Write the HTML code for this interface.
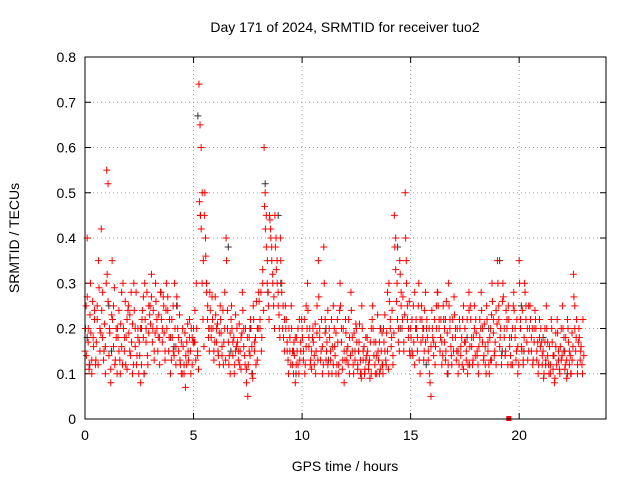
<!DOCTYPE html>
<html><head><meta charset="utf-8"><style>
body{margin:0;background:#fff;}
svg{display:block;font-family:"Liberation Sans",sans-serif;}
</style></head><body>
<svg id="chart" width="640" height="480" xmlns="http://www.w3.org/2000/svg">
<rect width="640" height="480" fill="#fff"/>
<text x="345" y="32" font-size="14" text-anchor="middle">Day 171 of 2024, SRMTID for receiver tuo2</text>
<text x="345" y="471" font-size="14" text-anchor="middle">GPS time / hours</text>
<text x="19" y="238" font-size="14" text-anchor="middle" transform="rotate(-90 19 238)">SRMTID / TECUs</text>
<g id="grid"></g><g id="ticks"></g><g id="marks"></g>
<rect x="85" y="57" width="521" height="362" fill="none" stroke="#000" stroke-width="1"/>
</svg>
<script>
const xTicks=[0,5,10,15,20];
const yTicks=[0,0.1,0.2,0.3,0.4,0.5,0.6,0.7,0.8];
const redHours=[0,0.25,0.5,0.75,1,1.25,1.5,1.75,2,2.25,2.5,2.75,3,3.25,3.5,3.75,4,4.25,4.5,4.75,5,5.25,5.5,5.75,6,6.25,6.5,6.75,7,7.25,7.5,7.75,8,8.25,8.5,8.75,9,9.25,9.5,9.75,10,10.25,10.5,10.75,11,11.25,11.5,11.75,12,12.25,12.5,12.75,13,13.25,13.5,13.75,14,14.25,14.5,14.75,15,15.25,15.5,15.75,16,16.25,16.5,16.75,17,17.25,17.5,17.75,18,18.25,18.5,18.75,19,19.25,19.5,19.75,20,20.25,20.5,20.75,21,21.25,21.5,21.75,22,22.25,22.5,22.75];
const redVals=[[.15,.25,.4,.2,.12],[.3,.1,.18,.22],[.13,.25,.35,.2],[.42,.28,.15,.1],[.55,.52,.2,.08],[.35,.25,.12,.18],[.2,.15,.1,.28],[.3,.18,.12,.22],[.25,.15,.28,.1],[.3,.2,.12,.18],[.17,.08,.22,.27],[.3,.2,.14,.25],[.25,.32,.2,.15],[.3,.22,.18,.12],[.28,.2,.25,.15],[.3,.24,.18,.1],[.22,.15,.3,.12],[.25,.18,.13,.1],[.2,.12,.07,.17],[.15,.22,.1,.18],[.2,.17,.3,.14],[.74,.65,.6,.5,.35],[.45,.4,.3,.25,.2],[.28,.2,.22,.15],[.27,.2,.15,.12],[.22,.16,.12,.28],[.4,.2,.12,.1],[.25,.17,.1,.15],[.2,.15,.12,.18],[.28,.2,.12,.08],[.05,.15,.22,.1],[.25,.17,.12,.2],[.28,.2,.15,.3],[.6,.5,.45,.35,.25],[.45,.42,.38,.3,.27],[.45,.4,.35,.25,.2],[.4,.3,.25,.22],[.2,.15,.1,.18],[.25,.12,.17,.08],[.18,.12,.22,.15],[.2,.15,.1,.25],[.3,.18,.12,.15],[.2,.14,.1,.25],[.35,.2,.15,.1],[.38,.22,.15,.12],[.2,.15,.1,.25],[.16,.1,.22,.12],[.3,.2,.13,.08],[.22,.15,.12,.18],[.28,.18,.1,.15],[.2,.12,.17,.1],[.25,.15,.1,.13],[.18,.12,.09,.2],[.25,.17,.1,.14],[.15,.1,.2,.12],[.2,.15,.12,.28],[.3,.22,.18,.14],[.45,.4,.3,.2],[.35,.28,.22,.17],[.5,.35,.25,.2,.15],[.2,.15,.25,.12],[.22,.18,.3,.1],[.25,.2,.15,.28],[.22,.15,.1,.05],[.2,.17,.12,.25],[.28,.22,.18,.12],[.25,.2,.15,.1],[.3,.22,.14,.18],[.27,.2,.15,.1],[.22,.16,.12,.25],[.2,.15,.1,.28],[.25,.18,.13,.2],[.22,.15,.1,.18],[.28,.2,.14,.12],[.25,.17,.1,.2],[.3,.22,.15,.12],[.35,.25,.18,.12],[.3,.2,.15,.22],[.25,.18,.12,.2],[.28,.2,.15,.1],[.35,.22,.15,.12],[.3,.25,.2,.15],[.25,.18,.12,.2],[.22,.15,.1,.18],[.2,.14,.09,.17],[.25,.17,.1,.12],[.2,.14,.08,.16],[.22,.15,.1,.13],[.25,.18,.12,.09],[.2,.15,.1,.13],[.32,.25,.18,.12],[.2,.15,.1]];
const redVals2=[[.2,.14,.27,.17,.11,.23],[.19,.13,.26,.16,.24,.12],[.17,.22,.12,.29,.15,.19],[.24,.18,.13,.21,.16,.3],[.32,.26,.14,.19,.11,.23],[.22,.16,.29,.13,.2,.1],[.18,.24,.13,.21,.16,.12],[.2,.15,.26,.18,.11,.24],[.19,.23,.14,.17,.21,.12],[.24,.16,.28,.14,.2,.1],[.14,.2,.12,.24,.18,.1],[.22,.17,.28,.12,.19,.23],[.21,.27,.17,.24,.13,.19],[.26,.2,.15,.23,.18,.28],[.22,.17,.27,.19,.13,.24],[.2,.27,.15,.22,.18,.13],[.18,.25,.14,.2,.16,.27],[.2,.15,.23,.12,.17,.1],[.16,.1,.19,.14,.12,.21],[.13,.18,.15,.2,.12,.17],[.17,.24,.13,.2,.15,.11],[.48,.45,.42,.3,.22,.16],[.5,.36,.28,.22,.18,.15],[.24,.18,.27,.2,.13,.17],[.23,.17,.21,.14,.19,.25],[.19,.14,.24,.17,.2,.13],[.35,.24,.17,.14,.19,.22],[.2,.14,.18,.12,.23,.16],[.17,.13,.21,.15,.11,.19],[.24,.16,.14,.2,.11,.18],[.12,.18,.14,.2,.16,.09],[.22,.15,.18,.26,.13,.2],[.26,.22,.28,.18,.33,.24],[.47,.42,.38,.3,.28,.22],[.44,.4,.35,.32,.25,.2],[.38,.33,.3,.28,.23,.18],[.35,.28,.2,.18,.15,.25],[.22,.17,.13,.2,.15,.12],[.2,.15,.1,.14,.18,.12],[.15,.2,.1,.13,.17,.22],[.18,.13,.22,.12,.16,.2],[.24,.16,.2,.13,.11,.18],[.17,.12,.21,.15,.19,.13],[.27,.18,.13,.22,.16,.12],[.3,.19,.13,.17,.24,.1],[.18,.13,.22,.16,.12,.2],[.14,.19,.12,.17,.1,.24],[.25,.17,.11,.2,.15,.13],[.19,.13,.16,.22,.1,.14],[.24,.15,.12,.19,.13,.21],[.17,.11,.15,.21,.13,.09],[.2,.13,.16,.11,.18,.14],[.15,.11,.13,.17,.1,.22],[.2,.14,.12,.17,.1,.23],[.13,.17,.11,.15,.19,.1],[.17,.23,.13,.19,.15,.11],[.26,.2,.16,.24,.12,.19],[.38,.33,.26,.22,.17,.15],[.32,.25,.2,.27,.15,.23],[.4,.3,.22,.18,.26,.14],[.18,.22,.14,.17,.28,.2],[.2,.15,.25,.13,.22,.17],[.22,.18,.13,.24,.17,.2],[.18,.13,.2,.08,.16,.24],[.18,.14,.22,.16,.2,.28],[.25,.2,.15,.22,.17,.14],[.22,.17,.13,.26,.19,.12],[.25,.2,.16,.12,.22,.15],[.23,.18,.13,.2,.15,.12],[.2,.14,.18,.22,.11,.17],[.17,.13,.22,.12,.24,.16],[.22,.16,.12,.18,.25,.14],[.19,.14,.12,.16,.22,.2],[.24,.17,.13,.21,.16,.1],[.22,.15,.12,.18,.13,.23],[.26,.19,.14,.17,.24,.21],[.3,.22,.16,.2,.14,.26],[.27,.18,.14,.24,.2,.12],[.22,.16,.14,.18,.12,.25],[.24,.18,.13,.22,.16,.12],[.3,.2,.16,.24,.13,.18],[.28,.22,.17,.13,.25,.2],[.22,.15,.2,.13,.17,.24],[.2,.13,.17,.12,.22,.16],[.17,.12,.15,.1,.2,.13],[.2,.14,.12,.16,.1,.22],[.17,.11,.14,.09,.19,.12],[.19,.13,.11,.16,.2,.14],[.2,.15,.11,.18,.13,.22],[.17,.12,.14,.1,.19,.16],[.27,.2,.15,.22,.1,.17],[.18,.13,.16,.12,.22,.14]];
const blackHours=[0.1,1.1,2.6,4.1,5.2,5.6,6.6,7.6,8.3,8.9,9.6,11.1,12.6,13.6,14.4,15.6,16.6,17.6,18.6,19.1,20.1,21.1,22.1];
const blackVals=[[.18,.12],[.25,.15],[.2,.1],[.16,.25],[.67,.45],[.3,.2],[.38,.15],[.2,.1],[.52,.28],[.45,.3],[.15,.1],[.2,.13],[.15,.1],[.2,.12],[.38,.2],[.2,.12],[.22,.1],[.18,.12],[.2,.13],[.35,.15],[.25,.15],[.18,.12],[.15,.1]];
const specialPoint=[19.5,0];

const X0=85,X1=606,Y0=419,Y1=57,XMAX=24,YMAX=0.8;
const xs=v=>X0+(X1-X0)*v/XMAX;
const ys=v=>Y0-(Y0-Y1)*v/YMAX;
const NS="http://www.w3.org/2000/svg";
const grid=document.getElementById('grid'),ticks=document.getElementById('ticks'),marks=document.getElementById('marks');
function mk(tag,attrs,parent){const e=document.createElementNS(NS,tag);for(const k in attrs)e.setAttribute(k,attrs[k]);parent.appendChild(e);return e;}
xTicks.forEach(t=>{
  const x=xs(t);
  if(t>0){const g=mk('line',{x1:x,x2:x,y1:Y0,y2:Y1,stroke:'#a0a0a0','stroke-dasharray':'1,3'},grid);
  
  }
  mk('line',{x1:x,x2:x,y1:Y0,y2:Y0-6,stroke:'#000'},ticks);
  mk('line',{x1:x,x2:x,y1:Y1,y2:Y1+6,stroke:'#000'},ticks);
  const l=mk('text',{x:x,y:Y0+21,'font-size':14,'text-anchor':'middle'},ticks);l.textContent=t;
  
  
});
yTicks.forEach(t=>{
  const y=ys(t);
  if(t>0&&t<0.8){const g=mk('line',{x1:X0,x2:X1,y1:y,y2:y,stroke:'#a0a0a0','stroke-dasharray':'1,3'},grid);
  
  }
  mk('line',{x1:X0,x2:X0+6,y1:y,y2:y,stroke:'#000'},ticks);
  mk('line',{x1:X1,x2:X1-6,y1:y,y2:y,stroke:'#000'},ticks);
  const l=mk('text',{x:X0-9,y:y+5,'font-size':14,'text-anchor':'end'},ticks);l.textContent=(t===0?'0':t.toFixed(1));
  
  
});
function plus(t,v,color,name){
  const x=xs(t),y=ys(v);
  const p=mk('path',{d:`M${x-3.5},${y}h7M${x},${y-3.5}v7`,stroke:color,'stroke-width':1,fill:'none'},marks);
  
  
}
blackHours.forEach((h,i)=>{const vs=blackVals[i];vs.forEach((v,j)=>plus(h+j*0.12,v,'#333','black-point'));});
redHours.forEach((h,i)=>{const vs=redVals[i];vs.forEach((v,j)=>plus(h+j*0.25/vs.length,v,'#ff0000','red-point'));});
redHours.forEach((h,i)=>{const vs=redVals2[i]||[];vs.forEach((v,j)=>plus(h+0.02+j*0.25/vs.length,v,'#ff0000','red-point'));});
const sq=mk('rect',{x:xs(specialPoint[0])-2,y:ys(specialPoint[1])-3,width:5,height:5,fill:'#ff0000'},marks);


</script>
</body></html>
